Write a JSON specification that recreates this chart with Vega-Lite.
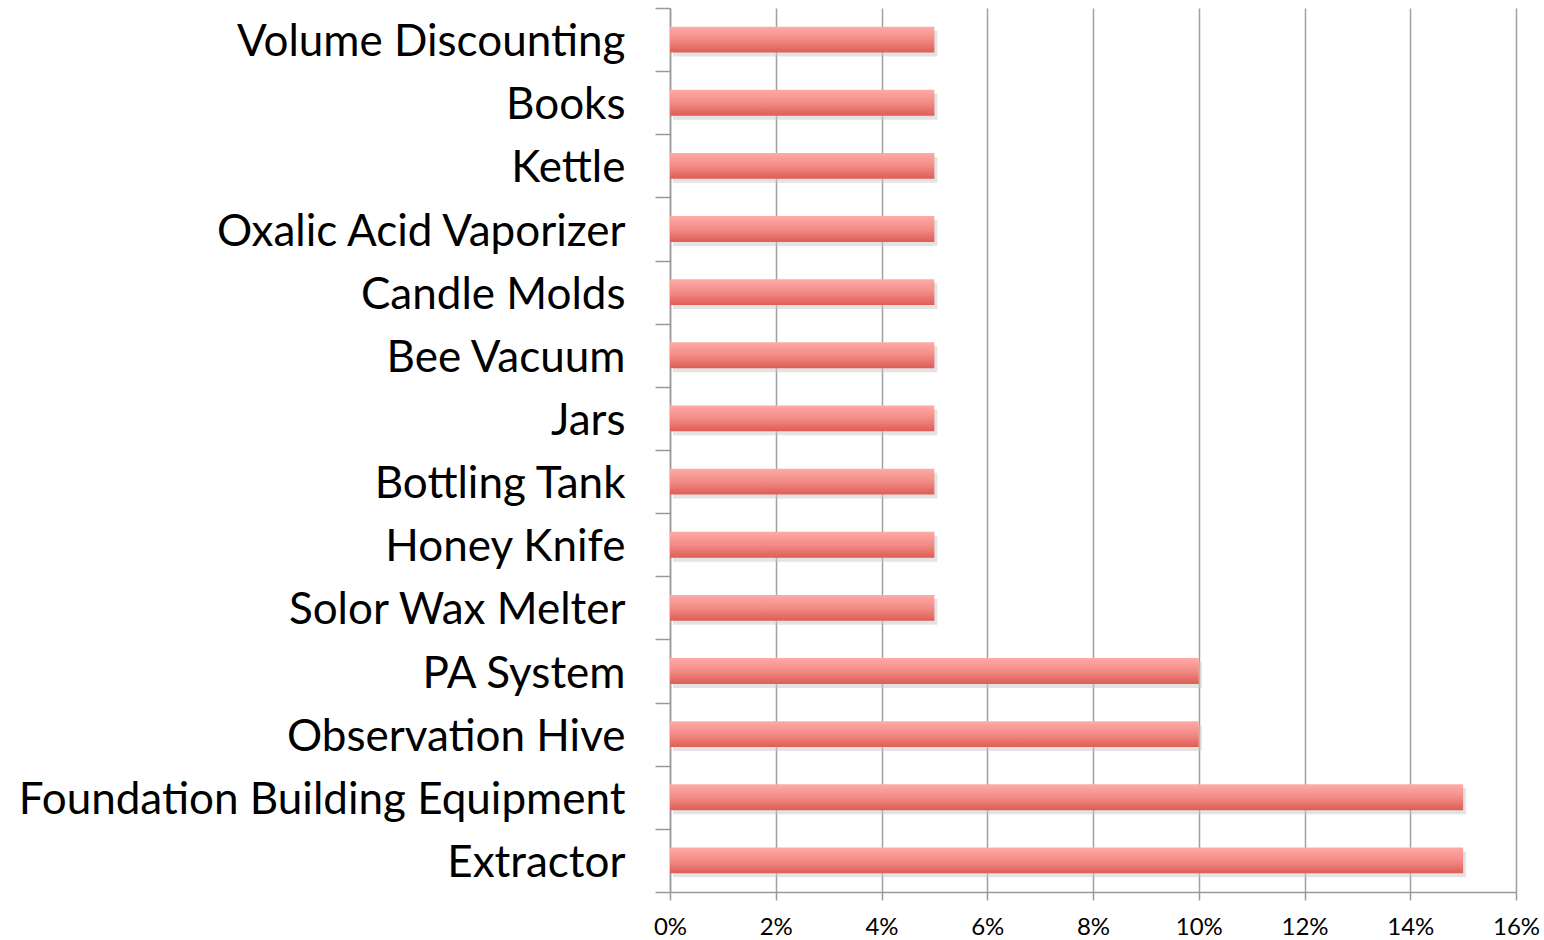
{
  "$schema": "https://vega.github.io/schema/vega-lite/v6.json",
  "width": 846,
  "height": 884,
  "autosize": {"type": "none"},
  "padding": {"left": 670, "top": 8, "right": 28, "bottom": 48},
  "background": "white",
  "data": {"values": [
    {"item": "Volume Discounting", "share": 0.05},
    {"item": "Books", "share": 0.05},
    {"item": "Kettle", "share": 0.05},
    {"item": "Oxalic Acid Vaporizer", "share": 0.05},
    {"item": "Candle Molds", "share": 0.05},
    {"item": "Bee Vacuum", "share": 0.05},
    {"item": "Jars", "share": 0.05},
    {"item": "Bottling Tank", "share": 0.05},
    {"item": "Honey Knife", "share": 0.05},
    {"item": "Solor Wax Melter", "share": 0.05},
    {"item": "PA System", "share": 0.10},
    {"item": "Observation Hive", "share": 0.10},
    {"item": "Foundation Building Equipment", "share": 0.15},
    {"item": "Extractor", "share": 0.15}
  ]},
  "config": {
    "view": {"stroke": null},
    "axis": {"labelFont": "Lato", "labelColor": "#000000", "domainColor": "#999999", "tickColor": "#999999", "gridColor": "#a0a0a0", "domainWidth": 1.5, "tickWidth": 1.5, "gridWidth": 1.5}
  },
  "encoding": {
    "y": {
      "field": "item", "type": "nominal", "sort": null,
      "scale": {"paddingInner": 0, "paddingOuter": 0},
      "axis": {"title": null, "labelFontSize": 44, "tickSize": 15, "labelPadding": 30, "labelOffset": 3, "tickBand": "extent", "grid": false, "labelLimit": 700}
    },
    "x": {
      "field": "share", "type": "quantitative",
      "scale": {"domain": [0, 0.16], "nice": false},
      "axis": {"title": null, "format": ".0%", "values": [0, 0.02, 0.04, 0.06, 0.08, 0.1, 0.12, 0.14, 0.16], "grid": true, "tickSize": 8, "labelFontSize": 24, "labelPadding": 15, "labelFlush": false}
    }
  },
  "layer": [
    {
      "mark": {"type": "bar", "height": {"band": 0.41}, "color": "#c8c8c8", "opacity": 0.5, "xOffset": 3, "yOffset": 4}
    },
    {
      "mark": {
        "type": "bar",
        "height": {"band": 0.41},
        "color": {
          "gradient": "linear", "x1": 0, "y1": 0, "x2": 0, "y2": 1,
          "stops": [
            {"offset": 0, "color": "#ffaaa7"},
            {"offset": 0.5, "color": "#f28c86"},
            {"offset": 1, "color": "#de5d55"}
          ]
        }
      }
    }
  ]
}
